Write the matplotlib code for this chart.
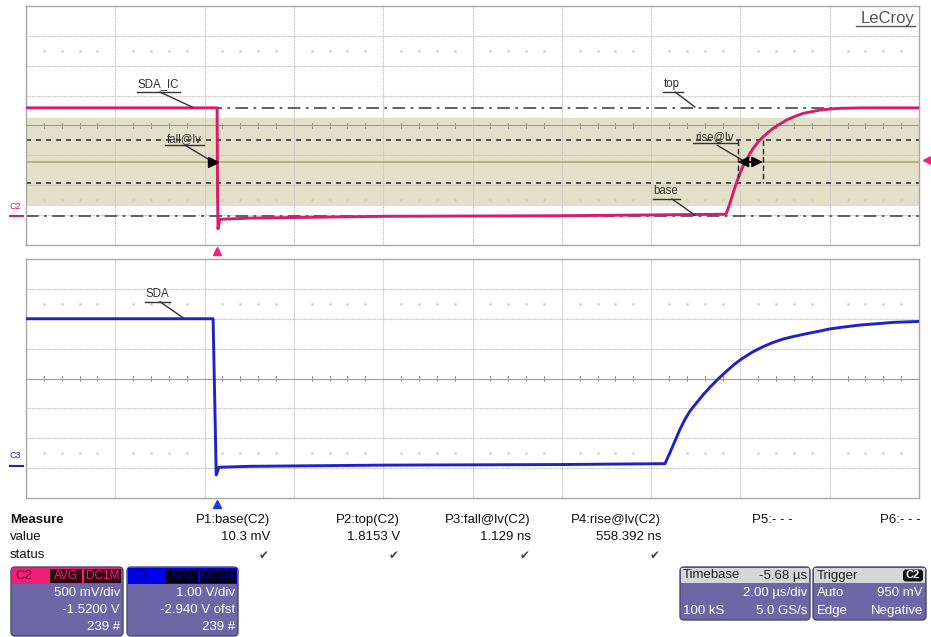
import numpy as np
import matplotlib
matplotlib.use("Agg")
import matplotlib.pyplot as plt
from matplotlib.patches import FancyBboxPatch, Rectangle
from matplotlib.transforms import blended_transform_factory

plt.rcParams['font.family'] = ['Liberation Sans', 'DejaVu Sans']

# screen: 10 div x 2 us/div, time in us from the left edge
# C2 = SDA_IC (500 mV/div, offset -1.52 V)
c2_t = [0.0, 4.28, 4.29, 4.30, 4.34, 5.0, 8.0, 12.0, 15.677, 15.767, 15.842,
        15.916, 15.991, 16.065, 16.140, 16.215, 16.289, 16.401, 16.513, 16.625,
        16.737, 16.887, 17.036, 17.223, 17.410, 17.596, 17.783, 18.007, 18.231,
        18.8, 20.0]
c2_v = [1.815, 1.815, 0.39, -0.21, -0.05, -0.03, 0.0, 0.01, 0.035, 0.219, 0.403,
        0.570, 0.721, 0.848, 0.943, 1.055, 1.139, 1.249, 1.333, 1.406,
        1.473, 1.545, 1.612, 1.674, 1.724, 1.751, 1.779, 1.796, 1.808,
        1.815, 1.815]

# C3 = SDA (1.00 V/div, offset -2.94 V)
c3_t = [0.0, 4.19, 4.23, 4.26, 4.32, 5.0, 8.0, 12.0, 14.311, 14.423, 14.535,
        14.647, 14.759, 14.871, 15.021, 15.169, 15.319, 15.505, 15.693, 15.879,
        16.013, 16.253, 16.477, 16.701, 16.961, 17.186, 17.484, 17.783,
        17.992, 18.305, 18.679, 19.052, 19.425, 20.0]
c3_v = [4.94, 4.94, 2.0, -0.29, -0.03, 0.0, 0.04, 0.06, 0.09, 0.46, 0.85,
        1.24, 1.573, 1.85, 2.13, 2.40, 2.65, 2.93, 3.19, 3.43,
        3.58, 3.81, 3.984, 4.13, 4.263, 4.345, 4.440, 4.529,
        4.596, 4.662, 4.729, 4.773, 4.818, 4.851]

c2_center, c2_vdiv = 1.52, 0.5
c3_center, c3_vdiv = 2.94, 1.0

# measurement levels on C2
base_lvl = 0.0103
top_lvl = 1.8153
band_lo, band_hi = 0.19, 1.64
dash_lvls = [0.55, 1.27]
mid_lvl = 0.91
trig_lvl = 0.95
trig_t = 4.28
rise_t0, rise_t1 = 15.94, 16.50

meas_names = ['P1:base(C2)', 'P2:top(C2)', 'P3:fall@lv(C2)', 'P4:rise@lv(C2)', 'P5:- - -', 'P6:- - -']
meas_values = ['10.3 mV', '1.8153 V', '1.129 ns', '558.392 ns', '', '']
meas_status = [True, True, True, True, False, False]

PINK = '#d81b6a'
BLUE = '#1f22c8'
GRID = '#c4c4c4'
BODY = '#6e67a6'

W, H = 931, 637
fig = plt.figure(figsize=(W / 100, H / 100), dpi=100)


def px_axes(x0, y0, x1, y1):
    return fig.add_axes([x0 / W, 1 - y1 / H, (x1 - x0) / W, (y1 - y0) / H])


def scope_grid(ax, center, vdiv):
    ax.set_xlim(0, 20)
    ax.set_ylim(center - 4 * vdiv, center + 4 * vdiv)
    ax.set_xticks([])
    ax.set_yticks([])
    for s in ax.spines.values():
        s.set_color('#a8a8a8')
        s.set_linewidth(1.0)
    for k in range(1, 10):
        ax.axvline(2 * k, color=GRID, lw=0.8, ls=(0, (1, 0.6)), zorder=1)
    for k in range(-3, 4):
        if k == 0:
            ax.axhline(center, color='#9a9a9a', lw=0.8, zorder=1)
        else:
            ax.axhline(center + k * vdiv, color=GRID, lw=0.8, ls=(0, (1, 0.6)), zorder=1)
    minor = [t for t in np.arange(0.4, 20, 0.4) if abs(t / 2 - round(t / 2)) > 0.05]
    for t in minor:
        ax.plot([t, t], [center - 0.1 * vdiv, center + 0.1 * vdiv], color='#9a9a9a', lw=0.7, zorder=1)
    for s in (-2.5, 2.5):
        ax.plot(minor, [center + s * vdiv] * len(minor), ls='', marker='s', ms=0.8,
                color='#cdcdcd', zorder=1)


def tag(ax, text, tc, ul, leader, color='#333333'):
    ax.text(tc[0], tc[1], text, ha='center', va='center', fontsize=8.3, color=color, zorder=6)
    ax.plot([ul[0], ul[1]], [ul[2], ul[2]], color='#333333', lw=1.0, zorder=6)
    ax.plot([leader[0], leader[2]], [leader[1], leader[3]], color='#333333', lw=1.0, zorder=6)


# ---- top panel (C2)
ax1 = px_axes(26, 6, 919, 245)
scope_grid(ax1, c2_center, c2_vdiv)
ax1.axhspan(band_lo, band_hi, color='#e3e0c9', zorder=0)
ax1.axhline(mid_lvl, color='#aaa56a', lw=1.1, zorder=2)
for lv in dash_lvls:
    ax1.axhline(lv, color='#333333', lw=1.2, ls=(0, (3, 3)), zorder=2)
for lv in (top_lvl, base_lvl):
    ax1.axhline(lv, color='#555555', lw=1.3, ls=(0, (7, 3, 1.5, 3)), zorder=2)
ax1.plot(c2_t, c2_v, color=PINK, lw=2.1, zorder=4)

tag(ax1, 'SDA_IC', (2.96, 2.22), (2.49, 3.45, 2.08), (3.00, 2.08, 3.72, 1.83))
tag(ax1, 'fall@lv', (3.54, 1.29), (3.11, 3.99, 1.19), (3.56, 1.19, 4.12, 0.94))
ax1.plot(4.19, mid_lvl, marker='>', ms=7, color='black', zorder=7)
tag(ax1, 'top', (14.47, 2.21), (14.27, 14.71, 2.08), (14.54, 2.08, 14.98, 1.83))
tag(ax1, 'rise@lv', (15.43, 1.32), (14.94, 15.92, 1.23), (15.48, 1.19, 16.02, 0.95))
tag(ax1, 'base', (14.33, 0.42), (14.04, 14.65, 0.29), (14.47, 0.29, 14.98, 0.02))
ax1.plot([rise_t0, rise_t0], [1.28, 0.65], color='#222222', lw=1.0, ls=(0, (4, 2)), zorder=6)
ax1.plot([rise_t1, rise_t1], [1.28, 0.55], color='#222222', lw=1.0, ls=(0, (4, 2)), zorder=6)
ax1.annotate('', xy=(rise_t0, mid_lvl), xytext=(rise_t1, mid_lvl), zorder=7,
             arrowprops=dict(arrowstyle='<|-|>', color='black', lw=1.2,
                             mutation_scale=16, shrinkA=0, shrinkB=0))

bt1 = blended_transform_factory(ax1.transData, ax1.transAxes)
ax1.plot(trig_t, -0.025, marker='^', ms=6, color='#f0207a', transform=bt1, clip_on=False)
bt1r = blended_transform_factory(ax1.transAxes, ax1.transData)
ax1.plot(1.009, trig_lvl, marker='<', ms=6, color='#f0207a', transform=bt1r, clip_on=False)
ax1.plot([-0.018, -0.003], [0.0, 0.0], color=PINK, lw=1.5, transform=bt1r, clip_on=False)
ax1.text(-0.018, 0.17, 'C2', color=PINK, fontsize=6.5, transform=bt1r, ha='left', va='center')

# ---- bottom panel (C3)
ax2 = px_axes(26, 259, 919, 498)
scope_grid(ax2, c3_center, c3_vdiv)
ax2.plot(c3_t, c3_v, color=BLUE, lw=2.1, zorder=4)
tag(ax2, 'SDA', (2.93, 5.76), (2.67, 3.23, 5.51), (3.00, 5.51, 3.52, 4.97))
bt2 = blended_transform_factory(ax2.transData, ax2.transAxes)
ax2.plot(trig_t, -0.025, marker='^', ms=6, color='#1a3ad8', transform=bt2, clip_on=False)
bt2r = blended_transform_factory(ax2.transAxes, ax2.transData)
ax2.plot([-0.018, -0.003], [0.0, 0.0], color=BLUE, lw=1.5, transform=bt2r, clip_on=False)
ax2.text(-0.018, 0.37, 'C3', color=BLUE, fontsize=6.5, transform=bt2r, ha='left', va='center')

# ---- overlay for the readout area
ov = fig.add_axes([0, 0, 1, 1], zorder=10)
ov.set_xlim(0, W)
ov.set_ylim(H, 0)
ov.axis('off')
ov.patch.set_alpha(0)

ov.text(915, 18, 'LeCroy', ha='right', va='center', fontsize=12, color='#555555')
ov.plot([856, 915], [26, 26], color='#555555', lw=1.0)

FS = 9.5
ov.text(10, 520, 'Measure', ha='left', va='center', fontsize=FS, fontweight='bold', color='#111111')
ov.text(10, 537, 'value', ha='left', va='center', fontsize=FS, color='#111111')
ov.text(10, 555, 'status', ha='left', va='center', fontsize=FS, color='#111111')
col_right = [270, 400, 531, 661, 793, 921]
for xr, nm, val, ok in zip(col_right, meas_names, meas_values, meas_status):
    ov.text(xr, 520, nm, ha='right', va='center', fontsize=FS, color='#111111')
    if val:
        ov.text(xr, 537, val, ha='right', va='center', fontsize=FS, color='#111111')
    if ok:
        ov.text(xr - 6, 555, '\u2714', ha='center', va='center', fontsize=8.5,
                color='#444444', family='DejaVu Sans')


def panel_box(x0, x1, y0, y1):
    ov.add_patch(FancyBboxPatch((x0, y0), x1 - x0, y1 - y0, boxstyle='round,pad=0,rounding_size=4',
                                fc=BODY, ec='#4a4a6a', lw=1.0))


def hdr_rect(x0, x1, y0, y1, fc):
    ov.add_patch(Rectangle((x0, y0), x1 - x0, y1 - y0, fc=fc, ec='none'))


# C2 channel box
panel_box(11, 123, 567, 636)
hdr_rect(12, 122, 568, 584, '#f0207a')
hdr_rect(50, 82, 569, 583, '#30000f')
hdr_rect(84, 121, 569, 583, '#30000f')
ov.text(15, 576, 'C2', ha='left', va='center', fontsize=FS, color='#7a0030')
ov.text(66, 576, 'AVG', ha='center', va='center', fontsize=8.5, color='#f0207a')
ov.text(102.5, 576, 'DC1M', ha='center', va='center', fontsize=8.5, color='#f0207a')
for yy, s in zip((593, 610, 627), ('500 mV/div', '-1.5200 V', '239 #')):
    ov.text(120, yy, s, ha='right', va='center', fontsize=FS, color='white')

# C3 channel box
panel_box(127, 238, 567, 636)
hdr_rect(128, 237, 568, 584, '#0000f0')
hdr_rect(166, 198, 569, 583, '#000018')
hdr_rect(200, 236, 569, 583, '#000018')
ov.text(131, 576, 'C3', ha='left', va='center', fontsize=FS, color='#000090')
ov.text(182, 576, 'AVG', ha='center', va='center', fontsize=8.5, color='#000090')
ov.text(218, 576, 'DC1M', ha='center', va='center', fontsize=8.5, color='#000090')
for yy, s in zip((593, 610, 627), ('1.00 V/div', '-2.940 V ofst', '239 #')):
    ov.text(235, yy, s, ha='right', va='center', fontsize=FS, color='white')

# Timebase box
panel_box(680, 810, 567, 620)
hdr_rect(681, 809, 568, 583, '#d6d6d6')
ov.text(683, 575.5, 'Timebase', ha='left', va='center', fontsize=FS, color='#222222')
ov.text(807, 575.5, '-5.68 \u00b5s', ha='right', va='center', fontsize=FS, color='#222222')
ov.text(807, 593, '2.00 \u00b5s/div', ha='right', va='center', fontsize=FS, color='white')
ov.text(683, 611, '100 kS', ha='left', va='center', fontsize=FS, color='white')
ov.text(807, 611, '5.0 GS/s', ha='right', va='center', fontsize=FS, color='white')

# Trigger box
panel_box(813, 926, 567, 620)
hdr_rect(814, 925, 568, 583, '#d6d6d6')
ov.add_patch(FancyBboxPatch((903, 569.5), 20, 12, boxstyle='round,pad=0,rounding_size=3',
                            fc='#111111', ec='none'))
ov.text(817, 575.5, 'Trigger', ha='left', va='center', fontsize=FS, color='#222222')
ov.text(913, 575.5, 'C2', ha='center', va='center', fontsize=8, color='white', fontweight='bold')
ov.text(817, 593, 'Auto', ha='left', va='center', fontsize=FS, color='white')
ov.text(923, 593, '950 mV', ha='right', va='center', fontsize=FS, color='white')
ov.text(817, 611, 'Edge', ha='left', va='center', fontsize=FS, color='white')
ov.text(923, 611, 'Negative', ha='right', va='center', fontsize=FS, color='white')

fig.savefig('out.png', dpi=100)
